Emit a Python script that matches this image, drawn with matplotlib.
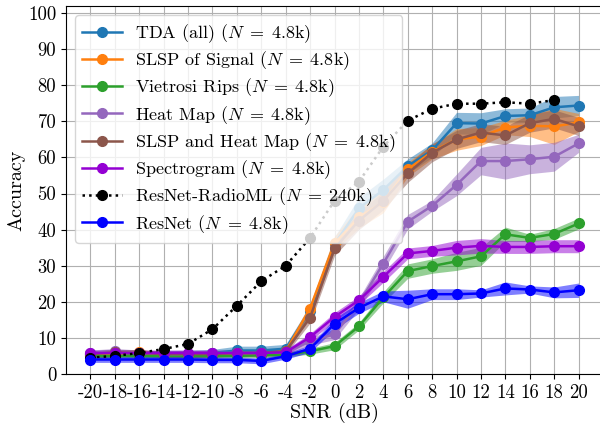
import numpy as np
import matplotlib
matplotlib.use("Agg")
import matplotlib.pyplot as plt

plt.rcParams['font.family'] = 'serif'
plt.rcParams['font.serif'] = ['cmr10']
plt.rcParams['mathtext.fontset'] = 'cm'
plt.rcParams['axes.formatter.use_mathtext'] = True
plt.rcParams['font.size'] = 13

snr = list(range(-20, 21, 2))
snr_radioml = list(range(-20, 19, 2))

tda = [5.5, 5.8, 5.6, 5.5, 5.6, 5.8, 6.5, 6.5, 7.0, 17.5, 36.0, 45.9, 51.0, 57.6, 62.0, 69.5, 69.4, 71.5, 71.7, 73.9, 74.4]
tda_std = [1.0, 1.0, 1.0, 1.0, 1.0, 1.0, 1.2, 1.2, 1.2, 1.5, 2.0, 3.0, 3.0, 2.0, 2.0, 3.0, 3.0, 2.0, 2.0, 3.0, 2.8]

slsp = [5.3, 5.5, 6.0, 5.3, 5.3, 5.3, 5.8, 5.5, 6.3, 18.1, 36.2, 43.4, 47.7, 56.7, 61.6, 65.0, 65.8, 68.3, 68.8, 68.6, 69.7]
slsp_std = [0.8, 0.8, 0.8, 0.8, 0.8, 0.8, 0.8, 0.8, 0.8, 1.5, 2.0, 3.0, 3.0, 2.0, 2.0, 3.0, 2.5, 2.0, 3.0, 5.0, 2.5]

vr = [5.0, 5.0, 5.0, 5.0, 5.0, 5.0, 5.0, 5.2, 5.3, 6.3, 7.7, 13.2, 21.2, 28.5, 29.9, 31.2, 32.6, 38.7, 37.7, 38.8, 41.7]
vr_std = [0.6, 0.6, 0.6, 0.6, 0.6, 0.6, 0.6, 0.6, 0.6, 0.8, 1.0, 1.0, 1.5, 2.0, 2.0, 2.5, 2.5, 2.0, 1.0, 1.5, 1.5]

heat = [5.8, 6.3, 5.8, 5.5, 5.5, 5.8, 5.8, 5.8, 6.0, 9.0, 11.0, 19.5, 30.6, 42.2, 46.6, 52.4, 59.0, 59.0, 59.5, 60.2, 63.9]
heat_std = [0.8, 0.8, 0.8, 0.8, 0.8, 0.8, 0.8, 0.8, 0.8, 1.0, 1.5, 1.5, 2.0, 2.0, 1.5, 3.0, 3.8, 5.0, 4.0, 4.0, 2.5]

slsp_heat = [5.5, 6.0, 5.8, 5.5, 5.5, 5.5, 5.8, 5.8, 6.3, 15.6, 34.8, 42.5, 48.0, 55.6, 61.3, 65.0, 66.9, 66.1, 69.5, 70.7, 68.6]
slsp_heat_std = [0.8, 0.8, 0.8, 0.8, 0.8, 0.8, 0.8, 0.8, 0.8, 1.5, 2.0, 2.5, 2.5, 2.5, 2.5, 2.5, 2.5, 2.5, 2.5, 2.5, 2.5]

spec = [5.8, 5.8, 5.8, 5.8, 5.8, 5.8, 5.8, 5.8, 6.0, 10.2, 15.8, 20.4, 26.9, 33.4, 34.1, 35.0, 35.5, 35.2, 35.2, 35.4, 35.4]
spec_std = [0.8, 0.8, 0.8, 0.8, 0.8, 0.8, 0.8, 0.8, 0.8, 1.0, 1.2, 1.2, 1.5, 1.5, 1.5, 2.0, 2.0, 1.8, 1.8, 1.8, 1.8]

radioml = [4.5, 5.0, 5.8, 6.9, 8.3, 12.4, 18.9, 25.7, 30.0, 37.7, 48.0, 53.3, 63.0, 70.2, 73.5, 74.9, 74.9, 75.3, 74.9, 75.9]

resnet = [4.0, 4.0, 4.0, 4.0, 4.0, 3.9, 3.9, 3.6, 4.9, 7.0, 13.9, 18.3, 21.5, 20.7, 22.1, 22.1, 22.3, 23.7, 23.4, 22.6, 23.2]
resnet_std = [0.8, 0.8, 0.8, 0.8, 0.8, 0.8, 0.8, 0.8, 0.8, 1.0, 1.5, 1.5, 1.5, 2.5, 1.5, 1.5, 1.0, 1.8, 1.0, 1.5, 2.0]

n_small = r"($N \;=\; 4.8$k)"
series = [
    ("TDA (all) " + n_small, tda, tda_std, "tab:blue"),
    ("SLSP of Signal " + n_small, slsp, slsp_std, "tab:orange"),
    ("Vietrosi Rips " + n_small, vr, vr_std, "tab:green"),
    ("Heat Map " + n_small, heat, heat_std, "tab:purple"),
    ("SLSP and Heat Map " + n_small, slsp_heat, slsp_heat_std, "tab:brown"),
    ("Spectrogram " + n_small, spec, spec_std, "darkviolet"),
]

fig = plt.figure(figsize=(6, 4.23), dpi=100)
ax = fig.add_axes([0.11, 0.116, 0.895, 0.87])

x = np.array(snr)
for label, vals, std, color in series:
    vals = np.array(vals)
    std = np.array(std)
    ax.fill_between(x, vals - std, vals + std, color=color, alpha=0.5, linewidth=0)
    ax.plot(x, vals, '-o', color=color, label=label, markersize=7, linewidth=1.8)

ax.plot(snr_radioml, radioml, ':o', color='black', label=r"ResNet-RadioML ($N \;=\; 240$k)",
        markersize=7, linewidth=1.8)

r = np.array(resnet)
rs = np.array(resnet_std)
ax.fill_between(x, r - rs, r + rs, color='blue', alpha=0.5, linewidth=0)
ax.plot(x, r, '-o', color='blue', label="ResNet " + n_small, markersize=7, linewidth=1.8)

ax.set_xlim(-22, 22)
ax.set_ylim(0, 102)
ax.set_xticks(snr)
ax.set_xticklabels([str(s) for s in snr])
ax.set_yticks(range(0, 101, 10))
ax.set_yticklabels([str(v) for v in range(0, 101, 10)])
ax.tick_params(labelsize=13.5)
ax.grid(True)
ax.set_axisbelow(True)
ax.set_xlabel("SNR (dB)", fontsize=14.5, labelpad=1)
ax.set_ylabel("Accuracy", fontsize=14.5, labelpad=2)
ax.legend(loc='upper left', fontsize=13, labelspacing=0.25, handlelength=2.2, handletextpad=0.7)

fig.savefig("out.png", dpi=100)
